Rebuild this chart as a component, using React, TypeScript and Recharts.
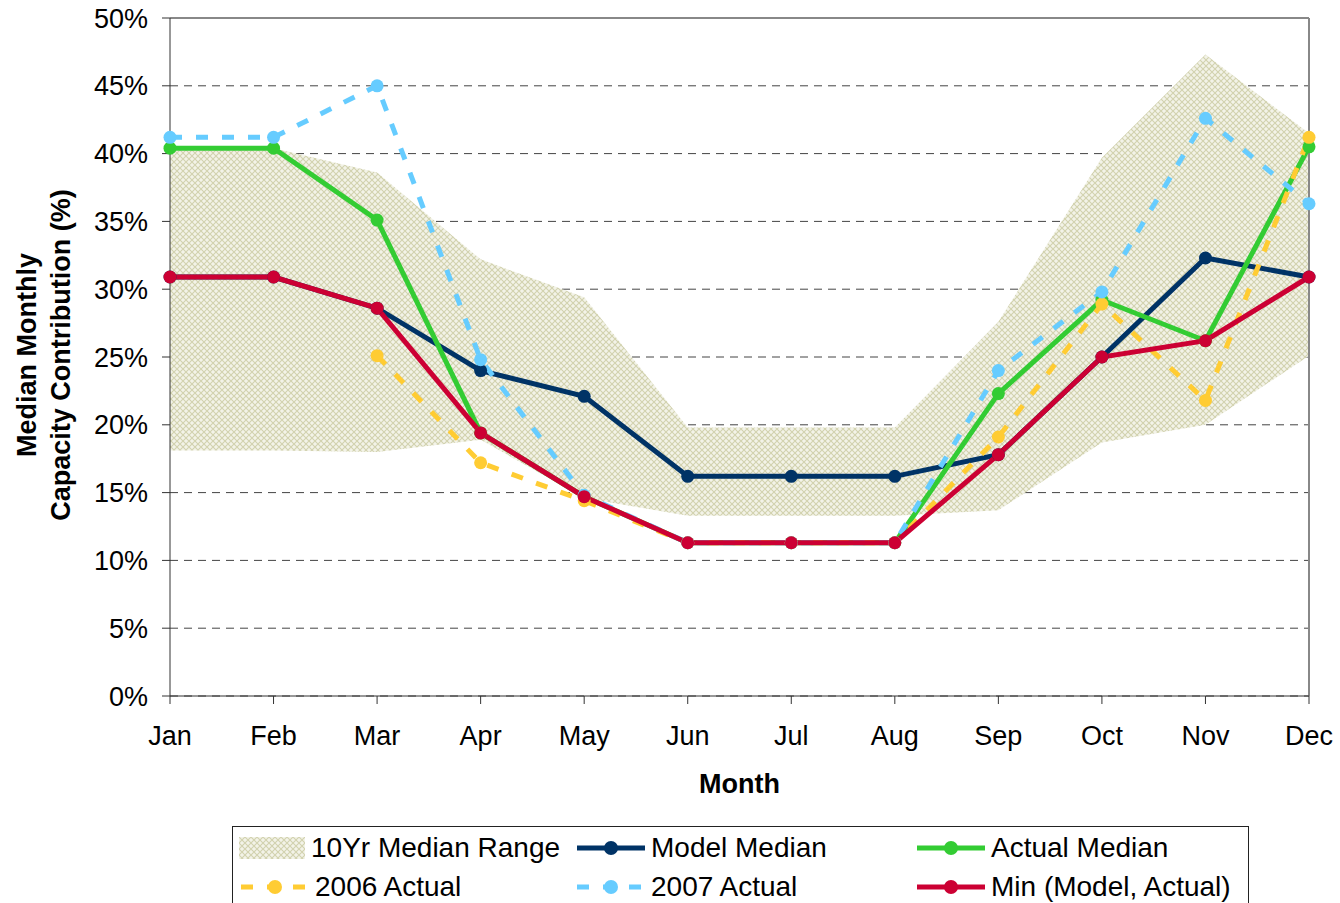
import { ComposedChart, Area, Line, XAxis, YAxis, CartesianGrid, ReferenceLine } from 'recharts';

const months = ['Jan', 'Feb', 'Mar', 'Apr', 'May', 'Jun', 'Jul', 'Aug', 'Sep', 'Oct', 'Nov', 'Dec'];
const bandLow = [18.1, 18.1, 18.0, 18.9, 14.6, 13.3, 13.3, 13.3, 13.7, 18.7, 20.0, 25.1];
const bandHigh = [40.4, 40.4, 38.6, 32.2, 29.4, 19.8, 19.8, 19.8, 27.6, 39.7, 47.3, 41.5];
const modelMedian = [30.9, 30.9, 28.6, 24.0, 22.1, 16.2, 16.2, 16.2, 17.8, 25.0, 32.3, 30.9];
const actualMedian = [40.4, 40.4, 35.1, 19.4, 14.7, 11.3, 11.3, 11.3, 22.3, 29.2, 26.2, 40.5];
const minModelActual = [30.9, 30.9, 28.6, 19.4, 14.7, 11.3, 11.3, 11.3, 17.8, 25.0, 26.2, 30.9];
const actual2006 = [null, null, 25.1, 17.2, 14.4, 11.3, 11.3, 11.3, 19.1, 28.9, 21.8, 41.2];
const actual2007 = [41.2, 41.2, 45.0, 24.8, 14.8, 11.3, 11.3, 11.3, 24.0, 29.8, 42.6, 36.3];
const yTicks = [0, 5, 10, 15, 20, 25, 30, 35, 40, 45, 50];

const data = months.map((m, i) => ({
  month: m,
  range: [bandLow[i], bandHigh[i]],
  model: modelMedian[i],
  actual: actualMedian[i],
  min: minModelActual[i],
  a2006: actual2006[i],
  a2007: actual2007[i],
}));

const FONT = '"Liberation Sans", Arial, sans-serif';
const NAVY = '#003366';
const GREEN = '#33cc33';
const RED = '#cc0033';
const YELLOW = '#ffcc33';
const BLUE = '#66ccff';

// crosshatch used by the 10yr band (also reused in the legend swatch)
const HatchPattern = ({ id }: { id: string }) => (
  <pattern id={id} width={6} height={6} patternUnits="userSpaceOnUse">
    <rect width={6} height={6} fill="#f3f3e8" />
    <path d="M0,0 L6,6 M6,0 L0,6" stroke="#d2d2ae" strokeWidth={1.1} />
  </pattern>
);

const YLabel = () => (
  <g>
    <text x={36} y={355} transform="rotate(-90 36 355)" textAnchor="middle"
      style={{ fontFamily: FONT, fontSize: 27, fontWeight: 'bold' }}>Median Monthly</text>
    <text x={70} y={355} transform="rotate(-90 70 355)" textAnchor="middle"
      style={{ fontFamily: FONT, fontSize: 27, fontWeight: 'bold' }}>Capacity Contribution (%)</text>
  </g>
);

const Swatch = ({ color, dashed }: { color: string; dashed?: boolean }) => (
  <svg width={72} height={20} style={{ display: 'block' }}>
    <line x1={2} y1={10} x2={70} y2={10} stroke={color} strokeWidth={5}
      strokeDasharray={dashed ? '12 14' : undefined} />
    <circle cx={36} cy={10} r={7} fill={color} />
  </svg>
);

const legendItem = (left: number, top: number, swatch: any, label: string) => (
  <div style={{ position: 'absolute', left, top, display: 'flex', alignItems: 'center', height: 34 }}>
    {swatch}
    <span style={{ marginLeft: 4, whiteSpace: 'nowrap' }}>{label}</span>
  </div>
);

const Legend = () => (
  <div style={{
    position: 'absolute', left: 232, top: 826, width: 1015, height: 95,
    border: '1px solid #222', background: '#fff', fontFamily: FONT, fontSize: 28, color: '#000',
  }}>
    {legendItem(6, 4, (
      <svg width={68} height={22} style={{ display: 'block' }}>
        <defs><HatchPattern id="hatchLegend" /></defs>
        <rect x={0} y={0} width={66} height={22} fill="url(#hatchLegend)" />
      </svg>
    ), '10Yr Median Range')}
    {legendItem(342, 4, <Swatch color={NAVY} />, 'Model Median')}
    {legendItem(682, 4, <Swatch color={GREEN} />, 'Actual Median')}
    {legendItem(6, 43, <Swatch color={YELLOW} dashed />, '2006 Actual')}
    {legendItem(342, 43, <Swatch color={BLUE} dashed />, '2007 Actual')}
    {legendItem(682, 43, <Swatch color={RED} />, 'Min (Model, Actual)')}
  </div>
);

const dot = (color: string) => ({ r: 6.5, fill: color, stroke: color, strokeWidth: 0 });

export default function App() {
  return (
    <div style={{ position: 'absolute', left: 0, top: 0, width: 1340, height: 903, overflow: 'hidden', background: '#fff' }}>
      <ComposedChart width={1340} height={820} data={data} margin={{ top: 18, right: 31, bottom: 0, left: 0 }}>
        <defs>
          <HatchPattern id="hatch" />
        </defs>
        <CartesianGrid vertical={false} stroke="#444" strokeDasharray="8 6" />
        <XAxis dataKey="month" scale="point" padding={{ left: 0, right: 0 }} height={124}
          tickSize={8} tickMargin={22} stroke="#333" interval={0}
          tick={{ fill: '#000', fontSize: 27, fontFamily: FONT }}
          label={{ value: 'Month', position: 'insideBottom', offset: 27, fill: '#000', fontSize: 27, fontWeight: 'bold', fontFamily: FONT }} />
        <YAxis domain={[0, 50]} ticks={yTicks} width={170} tickSize={8} tickMargin={14}
          stroke="#333" interval={0} tickFormatter={(v) => `${v}%`}
          tick={{ fill: '#000', fontSize: 27, fontFamily: FONT }}
          label={<YLabel />} />
        <ReferenceLine y={50} stroke="#888" strokeWidth={2} />
        <ReferenceLine x="Dec" stroke="#888" strokeWidth={2} />
        <Area dataKey="range" type="linear" stroke="none" fill="url(#hatch)" fillOpacity={1} isAnimationActive={false} />
        <Line dataKey="model" type="linear" stroke={NAVY} strokeWidth={5} dot={dot(NAVY)} activeDot={false} isAnimationActive={false} />
        <Line dataKey="actual" type="linear" stroke={GREEN} strokeWidth={5} dot={dot(GREEN)} activeDot={false} isAnimationActive={false} />
        <Line dataKey="a2006" type="linear" stroke={YELLOW} strokeWidth={5} strokeDasharray="12 14" dot={dot(YELLOW)} activeDot={false} isAnimationActive={false} />
        <Line dataKey="a2007" type="linear" stroke={BLUE} strokeWidth={5} strokeDasharray="12 14" dot={dot(BLUE)} activeDot={false} isAnimationActive={false} />
        <Line dataKey="min" type="linear" stroke={RED} strokeWidth={5} dot={dot(RED)} activeDot={false} isAnimationActive={false} />
      </ComposedChart>
      <Legend />
    </div>
  );
}
